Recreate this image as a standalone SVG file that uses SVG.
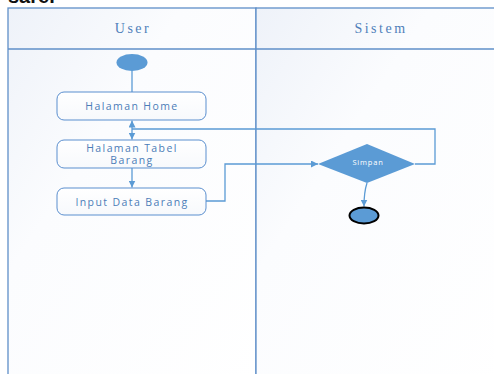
<svg xmlns="http://www.w3.org/2000/svg" width="494" height="374" viewBox="0 0 494 374">
  <style>
    .lane { fill: url(#laneFill); stroke: #5f8fc8; stroke-width: 1.3; }
    .lane-title { font-family: "Liberation Serif", serif; font-size: 14px; fill: #4f7fba; text-anchor: middle; letter-spacing: 2.5px; }
    .act { fill: url(#boxFill); stroke: #5b8fcf; stroke-width: 1; }
    .act-label { font-family: "Open Sans", "Liberation Sans", sans-serif; font-size: 10.5px; fill: #4c7db8; text-anchor: middle; letter-spacing: 1.4px; }
    .flow { fill: none; stroke: #5b9bd5; stroke-width: 1.3; }
    .dot { fill: #5b9bd5; }
  </style>
  <defs>
    <linearGradient id="laneFill" x1="0" y1="0" x2="1" y2="1">
      <stop offset="0" stop-color="#eef2f9"/>
      <stop offset="0.35" stop-color="#fbfcfe"/>
      <stop offset="1" stop-color="#ffffff"/>
    </linearGradient>
    <linearGradient id="boxFill" x1="0" y1="0" x2="0" y2="1">
      <stop offset="0" stop-color="#ffffff"/>
      <stop offset="1" stop-color="#f7f9fc"/>
    </linearGradient>
    <marker id="arrow" viewBox="0 0 10 10" refX="10" refY="5" markerWidth="7" markerHeight="7" orient="auto-start-reverse" markerUnits="userSpaceOnUse">
      <path d="M0,0 L10,5 L0,10 z" fill="#5b9bd5"/>
    </marker>
  </defs>

  <rect width="494" height="374" fill="#ffffff"/>

  <!-- caption line above the frame, running off the top edge -->
  <text x="8" y="2.5" font-family="Liberation Sans, sans-serif" font-size="20" font-weight="bold" fill="#111">sare.</text>

  <!-- swimlanes -->
  <g id="lanes">
    <rect class="lane" x="8" y="8" width="248" height="380"/>
    <rect class="lane" x="256" y="8" width="250" height="380"/>
    <line x1="8" y1="49" x2="494" y2="49" stroke="#5f8fc8" stroke-width="1.3"/>
    <text class="lane-title" x="133" y="32.5">User</text>
    <text class="lane-title" x="381" y="32.5">Sistem</text>
  </g>

  <!-- connectors -->
  <g id="connectors">
    <line class="flow" x1="132" y1="70" x2="132" y2="92"/>
    <polyline class="flow" points="415,164 435,164 435,129 132,129"/>
    <line class="flow" x1="132" y1="129" x2="132" y2="120.5" marker-end="url(#arrow)"/>
    <line class="flow" x1="132" y1="129" x2="132" y2="139.5" marker-end="url(#arrow)"/>
    <line class="flow" x1="132" y1="168" x2="132" y2="187.5" marker-end="url(#arrow)"/>
    <polyline class="flow" points="206,201 225,201 225,164 318,164" marker-end="url(#arrow)"/>
    <path class="flow" d="M367,183 Q364,192 364,206.5" marker-end="url(#arrow)"/>
  </g>

  <g id="start">
    <ellipse class="dot" cx="132" cy="62.5" rx="15.5" ry="8.5"/>
  </g>

  <g id="halaman-home">
    <rect class="act" x="57" y="92" width="149" height="28" rx="7"/>
    <text class="act-label" x="132" y="110">Halaman Home</text>
  </g>

  <g id="halaman-tabel-barang">
    <rect class="act" x="57" y="140" width="149" height="28" rx="7"/>
    <text class="act-label" font-size="9" letter-spacing="1.7"><tspan x="132" y="151.5">Halaman Tabel</tspan><tspan x="132" y="164">Barang</tspan></text>
  </g>

  <g id="input-data-barang">
    <rect class="act" x="57" y="188" width="149" height="27" rx="7"/>
    <text class="act-label" x="132" y="205.5">Input Data Barang</text>
  </g>

  <g id="simpan">
    <polygon points="318,164 367,144 415,164 367,183" fill="#5b9bd5"/>
    <text x="368" y="165" font-family="Open Sans, Liberation Sans, sans-serif" font-size="7.5" fill="#ffffff" text-anchor="middle" letter-spacing="0.8">Simpan</text>
  </g>

  <g id="end">
    <ellipse cx="364" cy="215.5" rx="14.5" ry="8" fill="#5b9bd5" stroke="#000000" stroke-width="2"/>
  </g>
</svg>
